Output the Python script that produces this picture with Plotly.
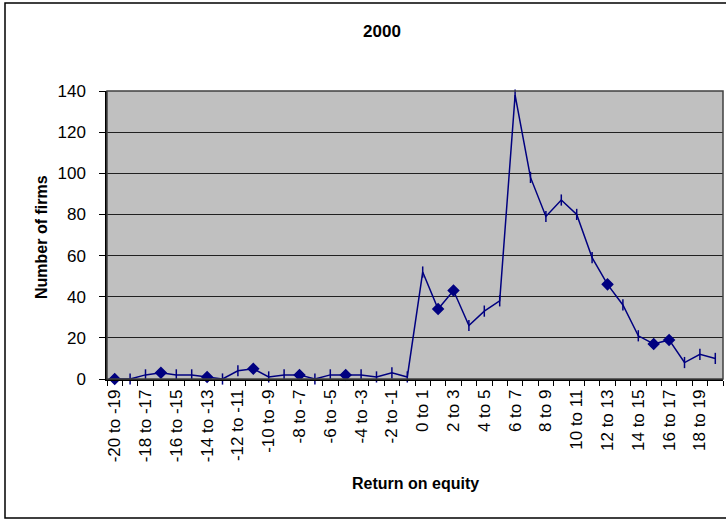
import plotly.graph_objects as go

categories = ["-20 to -19", "-19 to -18", "-18 to -17", "-17 to -16", "-16 to -15",
              "-15 to -14", "-14 to -13", "-13 to -12", "-12 to -11", "-11 to -10",
              "-10 to -9", "-9 to -8", "-8 to -7", "-7 to -6", "-6 to -5",
              "-5 to -4", "-4 to -3", "-3 to -2", "-2 to -1", "-1 to 0",
              "0 to 1", "1 to 2", "2 to 3", "3 to 4", "4 to 5",
              "5 to 6", "6 to 7", "7 to 8", "8 to 9", "9 to 10",
              "10 to 11", "11 to 12", "12 to 13", "13 to 14", "14 to 15",
              "15 to 16", "16 to 17", "17 to 18", "18 to 19", "19 to 20"]

firms = [0, 0, 2, 3, 2, 2, 1, 0, 4, 5,
         1, 2, 2, 0, 2, 2, 2, 1, 3, 1,
         52, 34, 43, 26, 33, 38, 138, 98, 79, 87,
         80, 59, 46, 36, 21, 17, 19, 8, 12, 10]

shown_labels = [c if i % 2 == 0 else "" for i, c in enumerate(categories)]

diamond_idx = {0, 3, 6, 9, 12, 15, 21, 22, 32, 35, 36}
symbols = ["diamond" if i in diamond_idx else "line-ns" for i in range(len(firms))]

NAVY = "#000080"
FONT = "Liberation Sans, Arial, sans-serif"

fig = go.Figure()
fig.add_trace(go.Scatter(
    x=categories, y=firms, mode="lines+markers",
    line=dict(color=NAVY, width=1.5),
    marker=dict(symbol=symbols, size=8, color=NAVY, opacity=1,
                line=dict(color=NAVY, width=1.5)),
    showlegend=False, cliponaxis=False,
))

L, R, T, B = 107, 3, 91, 141
W, H = 726, 520
pw, ph = W - L - R, H - T - B

fig.update_layout(
    width=W, height=H,
    margin=dict(l=L, r=R, t=T, b=B, pad=0),
    paper_bgcolor="white", plot_bgcolor="#C0C0C0",
    font=dict(family=FONT, size=17, color="black"),
    title=dict(text="<b>2000</b>", x=382 / W, xanchor="center",
               y=1 - 31 / H, yanchor="middle",
               font=dict(family=FONT, size=17, color="black")),
    xaxis=dict(type="category", categoryorder="array", categoryarray=categories,
               tickmode="array", tickvals=categories, ticktext=shown_labels,
               tickangle=-90, ticks="outside", tickson="boundaries",
               ticklen=5, tickcolor="black", tickwidth=1,
               showline=True, linecolor="black", linewidth=1.5,
               showgrid=False, range=[-0.5, 39.5],
               ticklabelstandoff=2,
               tickfont=dict(family=FONT, size=17, color="black")),
    yaxis=dict(range=[0, 140], dtick=20, tick0=0, ticks="outside",
               ticklen=6, tickcolor="black", tickwidth=1,
               showline=True, linecolor="black", linewidth=1.5,
               showgrid=True, gridcolor="#202020", gridwidth=1,
               zeroline=False, ticklabelstandoff=10,
               tickfont=dict(family=FONT, size=17, color="black")),
    annotations=[
        dict(text="<b>Return on equity</b>", xref="paper", yref="paper",
             x=0.5, y=-(483 - 379) / ph, xanchor="center", yanchor="middle",
             showarrow=False, font=dict(family=FONT, size=16, color="black")),
        dict(text="<b>Number of firms</b>", xref="paper", yref="paper",
             x=(41 - L) / pw, y=(379 - 237) / ph, xanchor="center", yanchor="middle",
             textangle=-90, showarrow=False,
             font=dict(family=FONT, size=16, color="black")),
    ],
    shapes=[
        dict(type="rect", xref="paper", yref="paper", x0=0, x1=1, y0=0, y1=1,
             line=dict(color="#404040", width=1.5), layer="above"),
        dict(type="rect", xref="paper", yref="paper",
             x0=(5 - L) / pw, x1=(735 - L) / pw,
             y0=-(518 - 379) / ph, y1=1 + (T - 3) / ph,
             line=dict(color="black", width=1.5)),
    ],
)

fig.write_html("out.html")
